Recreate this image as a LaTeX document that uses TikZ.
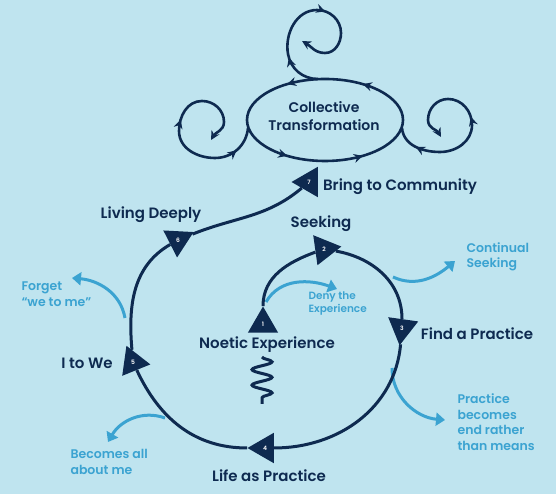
\documentclass[tikz,border=0pt]{standalone}
\usepackage{fontspec}
\setmainfont{Poppins}[UprightFont=* SemiBold]
\usepackage{tikz}
\usetikzlibrary{arrows.meta,shapes.geometric,decorations.markings,decorations.pathmorphing}

\definecolor{bgblue}{RGB}{191,228,239}
\definecolor{navy}{RGB}{14,42,80}
\definecolor{skyblue}{RGB}{59,163,209}

\newcommand{\curltip}{\arrow{Stealth[length=9pt,width=9pt,inset=3pt]}}
\newcommand{\curlback}{\arrowreversed{Stealth[length=9pt,width=9pt,inset=3pt]}}

\begin{document}
\begin{tikzpicture}[x=1pt,y=1pt,
  tri/.style={regular polygon, regular polygon sides=3, fill=navy, minimum size=35pt, inner sep=0pt, text=white, font=\fontsize{6}{6}\selectfont},
  stage/.style={text=navy, font=\fontsize{15}{18}\selectfont, align=center},
  sidenote/.style={text=skyblue, font=\fontsize{12.5}{15.5}\selectfont, align=left, anchor=west},
  loopline/.style={draw=navy, line width=3pt},
  detour/.style={draw=skyblue, line width=3pt, -{Triangle[length=9pt,width=13pt]}},
  swirl/.style={draw=navy, line width=2.6pt, postaction={decorate}},
]
            % Background
            \fill[bgblue] (0,0) rectangle (556,494);
            \useasboundingbox (0,0) rectangle (556,494);

            % Stage markers
            \node[tri] (T1) at (263,170) {1};
            \node[tri, shape border rotate=-82] (T2) at (324,245) {2};
            \node[tri, shape border rotate=172] (T3) at (402,166) {3};
            \node[tri, shape border rotate=90] (T4) at (265,46) {4};
            \node[tri, shape border rotate=22] (T5) at (133,132) {5};
            \node[tri, shape border rotate=-63] (T6) at (178,254) {6};
            \node[tri, shape border rotate=90] (T7) at (309,312) {7};

            % Stage labels
            \node[stage] (noetic) at (267,149) {Noetic Experience};
            \node[stage] (seek) at (321,270) {Seeking};
            \node[stage] (find) at (477,160) {Find a Practice};
            \node[stage] (life) at (269,18) {Life as Practice};
            \node[stage] (itowe) at (87,131) {I to We};
            \node[stage] (living) at (151,279) {Living Deeply};
            \node[stage] (bring) at (400,307) {Bring to Community};
            \node[stage, font=\fontsize{14}{18}\selectfont] (CT) at (324,378) {Collective\\Transformation};

            % Side exits
            \coordinate (denyS) at (266,192);
            \coordinate (denyE) at (337,205);
            \coordinate (contS) at (393,217);
            \coordinate (contE) at (455,233);
            \coordinate (pracS) at (392,126);
            \coordinate (pracE) at (445,74);
            \coordinate (forgS) at (125,176);
            \coordinate (forgE) at (72,216);
            \coordinate (becoS) at (165,76);
            \coordinate (becoE) at (108,52);
            \draw[detour] (denyS) to[out=60,in=160] (denyE);
            \draw[detour] (contS) to[out=-25,in=220] (contE);
            \draw[detour] (pracS) to[out=-90,in=175] (pracE);
            \draw[detour] (forgS) to[out=100,in=-5] (forgE);
            \draw[detour] (becoS) to[out=160,in=60] (becoE);
            \node[sidenote, font=\fontsize{10.5}{13}\selectfont] (deny) at (305,190) {Deny the\\Experience};
            \node[sidenote] (cont) at (463,237) {Continual\\Seeking};
            \node[sidenote] (prac) at (454,72) {Practice\\becomes\\end rather\\than means};
            \node[sidenote] (forg) at (18,200) {Forget\\``we to me''};
            \node[sidenote] (beco) at (67,32) {Becomes all\\about me};

            % Main cycle
            \draw[loopline] (T1) to[out=90,in=200] (T2);
            \draw[loopline] (T2) to[out=-10,in=90] (T3);
            \draw[loopline] (T3) to[out=-95,in=0] (T4);
            \draw[loopline] (T4) to[out=180,in=-65] (T5);
            \draw[loopline] (T5) to[out=95,in=210] (T6);
            \draw[loopline] (T6) to[out=22,in=220] (T7);

            % Spring under the first stage
            \draw[navy, line width=3pt, decorate, decoration={snake, segment length=15.5pt, amplitude=10pt}] (262,137) -- (262,90);

            % Collective ring and curls
            \draw[swirl, decoration={markings, mark=at position 0.15 with {\curltip}, mark=at position 0.35 with {\curltip},
                mark=at position 0.65 with {\curltip}, mark=at position 0.85 with {\curltip}}]
                (325,374) ellipse (78pt and 41pt);
            \draw[swirl, -{Stealth[length=9pt,width=9pt,inset=3pt]}, decoration={markings, mark=at position 0.2 with {\curltip}, mark=at position 0.57 with {\curltip}}]
                (318,415) to[out=180,in=-80] (288,440) to[out=100,in=180] (317,484) to[out=0,in=90] (341,461) to[out=-90,in=0] (325,441) to[out=180,in=-30] (302,453);
            \draw[swirl, -{Stealth[length=9pt,width=9pt,inset=3pt]}, decoration={markings, mark=at position 0.13 with {\curlback}, mark=at position 0.56 with {\curltip}}]
                (248,366) to[out=-95,in=0] (215,336) to[out=180,in=-90] (179,363) to[out=90,in=180] (202,393) to[out=0,in=90] (224,372) to[out=-90,in=60] (211,354);
            \draw[swirl, -{Stealth[length=9pt,width=9pt,inset=3pt]}, decoration={markings, mark=at position 0.13 with {\curlback}, mark=at position 0.55 with {\curltip}}]
                (402,366) to[out=-85,in=180] (440,342) to[out=0,in=-90] (472,369) to[out=90,in=0] (448,395) to[out=180,in=90] (428,374) to[out=-90,in=120] (441,357);
\end{tikzpicture}
\end{document}
